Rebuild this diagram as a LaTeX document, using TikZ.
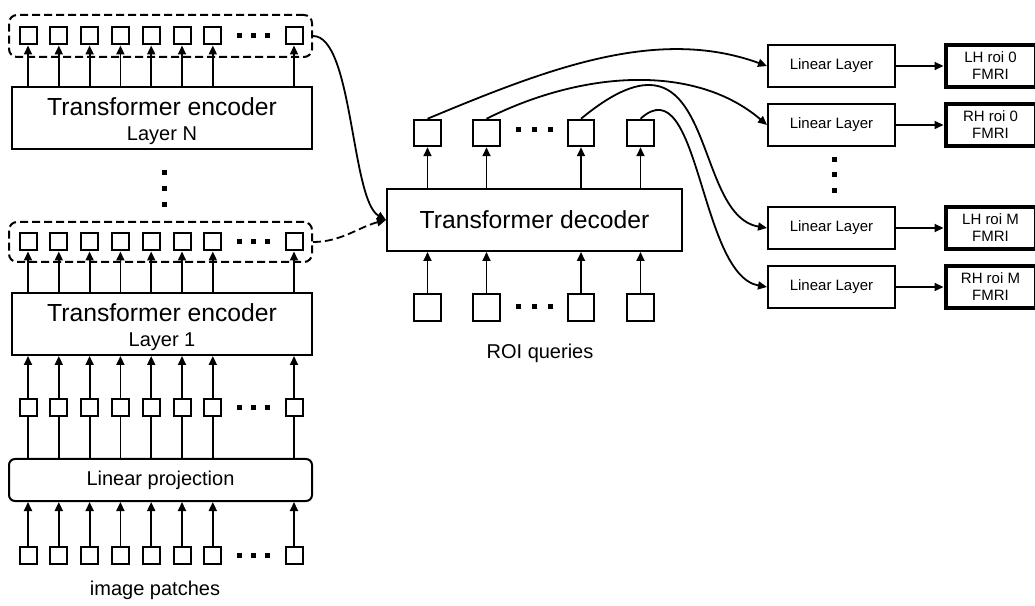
\documentclass[tikz,border=0pt]{standalone}
\usepackage{fontspec}
\setmainfont{Liberation Sans}
\usetikzlibrary{arrows.meta,calc}

\tikzset{
    cell/.style={draw, line width=2pt, minimum size=17pt, inner sep=0pt},
    qcell/.style={draw, line width=2pt, minimum size=26.5pt, inner sep=0pt},
    dotmark/.style={fill, minimum size=5pt, inner sep=0pt},
    block/.style={draw, line width=2pt, inner sep=0pt},
    group/.style={draw, line width=2pt, rounded corners=8pt, dash pattern=on 8pt off 4pt},
    flow/.style={line width=1.8pt, -{Triangle[length=9pt,width=8pt]}},
    link/.style={line width=1.8pt},
    bigtxt/.style={font=\fontsize{24.7}{28}\selectfont},
    midtxt/.style={font=\fontsize{20}{24}\selectfont},
    smalltxt/.style={font=\fontsize{15}{17}\selectfont}
}

\begin{document}
\begin{tikzpicture}[x=1pt, y=1pt]
            \useasboundingbox (0,0) rectangle (1035,605);
            % encoder column: rows of patch tokens
            \foreach \r/\y in {a/569, b/363, c/197.5, d/50} {
                \foreach \i/\x in {1/28, 2/58.8, 3/89.6, 4/120.4, 5/151.2, 6/182, 7/212.8, 8/294}
                    \node [cell] (\r\i) at (\x,\y) {};
                \foreach \k/\x in {1/239, 2/253, 3/267}
                    \node [dotmark] (\r dot\k) at (\x,\y) {};
            }
            \node [group, minimum width=303pt, minimum height=42pt] (grpN) at (160.5,569) {};
            \node [group, minimum width=303pt, minimum height=40pt] (grp1) at (160.5,363) {};
            \node [block, minimum width=300pt, minimum height=62pt] (encN) at (162,487) {};
            \node [block, minimum width=300pt, minimum height=62pt] (enc1) at (162,281) {};
            \node [bigtxt, anchor=base] (encNtitle) at ($(encN.center)+(0,2)$) {Transformer encoder};
            \node [midtxt, anchor=base] (encNlayer) at ($(encN.center)+(0,-22.5)$) {Layer N};
            \node [bigtxt, anchor=base] (enc1title) at ($(enc1.center)+(0,2)$) {Transformer encoder};
            \node [midtxt, anchor=base] (enc1layer) at ($(enc1.center)+(0,-23)$) {Layer 1};
            \node [block, rounded corners=6pt, minimum width=303pt, minimum height=42pt, midtxt] (proj) at (160.5,125) {Linear projection};
            \node [midtxt] (patches) at (155,15) {image patches};
            \foreach \k/\y in {1/432, 2/416, 3/400}
                \node [dotmark] (vdotl\k) at (164,\y) {};
            \foreach \i in {1,...,8} {
                \draw [flow] (a\i |- encN.north) -- (a\i.south);
                \draw [flow] (b\i |- enc1.north) -- (b\i.south);
                \draw [flow] (c\i.north) -- (c\i |- enc1.south);
                \draw [link] (c\i |- proj.north) -- (c\i.south);
                \draw [flow] (d\i.north) -- (d\i |- proj.south);
            }
            % decoder with ROI queries
            \node [block, minimum width=295pt, minimum height=62pt, bigtxt] (dec) at (534.5,385) {Transformer decoder};
            \foreach \i/\x in {1/427.5, 2/486.5, 3/581, 4/640.5} {
                \node [qcell] (out\i) at (\x,472) {};
                \node [qcell] (qry\i) at (\x,297.5) {};
                \draw [flow] (out\i |- dec.north) -- (out\i.south);
                \draw [flow] (qry\i.north) -- (qry\i |- dec.south);
            }
            \foreach \k/\x in {1/518, 2/534, 3/550} {
                \node [dotmark] (odot\k) at (\x,475) {};
                \node [dotmark] (qdot\k) at (\x,298) {};
            }
            \node [midtxt] (roi) at (540,252) {ROI queries};
            \draw [flow] (grpN.east) .. controls +(40,0) and +(-35,20) .. (dec.west);
            \draw [flow, dash pattern=on 8pt off 4pt] (grp1.east) .. controls +(28,0) and +(-27,-7) .. (dec.west);
            % heads
            \foreach \i/\y/\txt in {1/539/LH roi 0, 2/480/RH roi 0, 3/377/LH roi M, 4/318/RH roi M} {
                \node [block, minimum width=127pt, minimum height=42pt, smalltxt] (lin\i) at (831.5,\y) {Linear Layer};
                \node [draw, line width=4pt, minimum width=90pt, minimum height=42pt, inner sep=0pt, align=center, smalltxt] (fm\i) at (990.5,\y) {\txt\\FMRI};
                \draw [flow] (lin\i.east) -- (fm\i.west);
            }
            \foreach \k/\y in {1/445, 2/430, 3/414}
                \node [dotmark] (vdotr\k) at (834,\y) {};
            \draw [flow] (out1.north) .. controls +(120,50) and +(-110,40) .. (lin1.west);
            \draw [flow] (out2.north) .. controls +(100,50) and +(-70,60) .. (lin2.west);
            \draw [flow] (out3.north) .. controls +(138,114) and +(-78,13) .. (lin3.west);
            \draw [flow] (out4.north) .. controls +(59,54) and +(-68,12) .. (lin4.west);
\end{tikzpicture}
\end{document}
